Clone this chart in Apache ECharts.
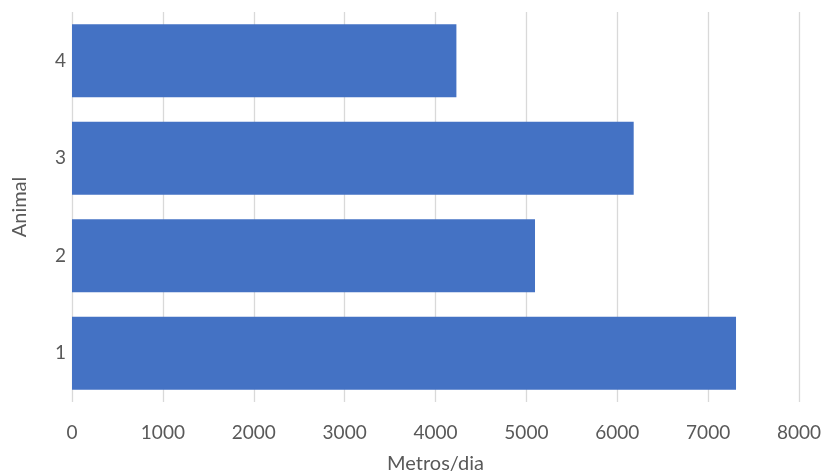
<!DOCTYPE html>
<html>
<head>
<meta charset="utf-8">
<script src="https://cdn.jsdelivr.net/npm/echarts@6/dist/echarts.min.js"></script>
<style>html,body{margin:0;padding:0;background:#fff}#c{width:824px;height:474px}</style>
</head>
<body>
<div id="c"></div>
<script>
const categories = ['1', '2', '3', '4'];
const values = [7307, 5095, 6181, 4230];
const xTicks = [0, 1000, 2000, 3000, 4000, 5000, 6000, 7000, 8000];
const xTitle = 'Metros/dia';
const yTitle = 'Animal';

const font = 'Lato, "Open Sans", sans-serif';
const chart = echarts.init(document.getElementById('c'));
chart.setOption({
  animation: false,
  grid: { left: 72, right: 25, top: 12, bottom: 72, containLabel: false, outerBoundsMode: 'none' },
  xAxis: {
    type: 'value', min: xTicks[0], max: xTicks[xTicks.length - 1], interval: 1000,
    name: xTitle, nameLocation: 'middle', nameGap: 52,
    nameTextStyle: { color: '#595959', fontSize: 20, fontFamily: font },
    axisLine: { show: false },
    axisTick: { show: false },
    axisLabel: { color: '#595959', fontSize: 19, fontFamily: font, margin: 21,
      formatter: function (v) { return String(v); } },
    splitLine: { show: true, lineStyle: { color: '#D9D9D9', width: 1.3 } }
  },
  yAxis: {
    type: 'category', data: categories,
    name: yTitle, nameLocation: 'middle', nameGap: 42,
    nameTextStyle: { color: '#595959', fontSize: 20, fontFamily: font },
    axisLine: { show: false },
    axisTick: { show: false },
    axisLabel: { color: '#595959', fontSize: 19, fontFamily: font, margin: 6 }
  },
  series: [{
    type: 'bar', data: values, barCategoryGap: '25%',
    itemStyle: { color: '#4472C4' }
  }]
});
</script>
</body>
</html>
